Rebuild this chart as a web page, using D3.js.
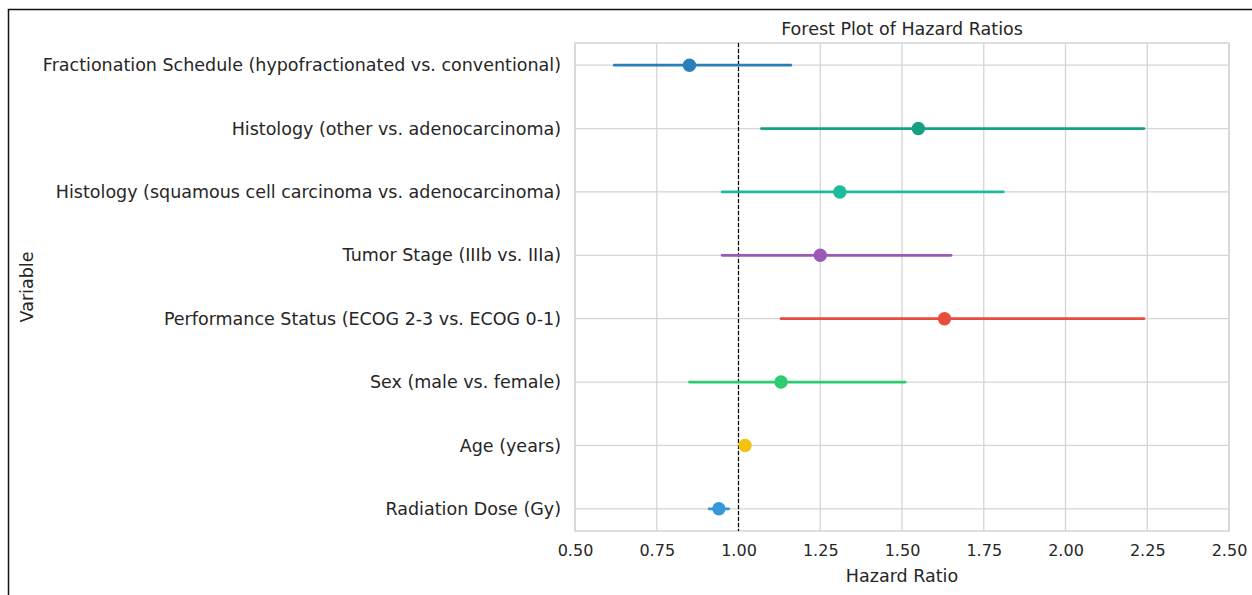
<!DOCTYPE html>
<html>
<head>
<meta charset="utf-8">
<script src="https://cdn.jsdelivr.net/npm/d3@7"></script>
<style>
  body { margin: 0; background: #fff; }
  svg { display: block; font-family: 'DejaVu Sans', sans-serif; }
</style>
</head>
<body>
<svg id="chart"></svg>
<script>
// data, top row first
const variables = [
  'Fractionation Schedule (hypofractionated vs. conventional)',
  'Histology (other vs. adenocarcinoma)',
  'Histology (squamous cell carcinoma vs. adenocarcinoma)',
  'Tumor Stage (IIIb vs. IIIa)',
  'Performance Status (ECOG 2-3 vs. ECOG 0-1)',
  'Sex (male vs. female)',
  'Age (years)',
  'Radiation Dose (Gy)'
]
const hazardRatios = [0.85, 1.55, 1.31, 1.25, 1.63, 1.13, 1.02, 0.94]
const lowerCI = [0.62, 1.07, 0.95, 0.95, 1.13, 0.85, 1.01, 0.91]
const upperCI = [1.16, 2.24, 1.81, 1.65, 2.24, 1.51, 1.03, 0.97]
const colors = ['#2980b9', '#16a085', '#1abc9c', '#9b59b6', '#e74c3c', '#2ecc71', '#f1c40f', '#3498db']
const xTicks = [0.5, 0.75, 1.0, 1.25, 1.5, 1.75, 2.0, 2.25, 2.5]

const width = 1252
const height = 595
const margin = { top: 43, right: 23, bottom: 64, left: 575 }
const textColor = '#262626'
const gridColor = '#d5d5d5'
const labelSize = '17.5px'

const svg = d3.select('#chart').attr('width', width).attr('height', height)

// frame of the screenshot
svg.append('path')
  .attr('d', `M8.5,${height} V9.5 H${width}`)
  .attr('fill', 'none')
  .attr('stroke', '#111')
  .attr('stroke-width', 1.5)

const x = d3.scaleLinear()
  .domain([0.5, 2.5])
  .range([margin.left, width - margin.right])

// matplotlib style 5% margins around the category positions
const n = variables.length
const y = d3.scaleLinear()
  .domain([-0.35, n - 1 + 0.35])
  .range([margin.top, height - margin.bottom])

const rows = variables.map((v, i) => ({
  name: v,
  hr: hazardRatios[i],
  lo: lowerCI[i],
  hi: upperCI[i],
  color: colors[i],
  idx: i
}))

// grid
const grid = svg.append('g')
grid.selectAll('.vgrid').data(xTicks).enter()
  .append('line')
  .attr('class', 'vgrid')
  .attr('x1', d => x(d)).attr('x2', d => x(d))
  .attr('y1', y.range()[0]).attr('y2', y.range()[1])
  .attr('stroke', gridColor).attr('stroke-width', 1.3)
grid.selectAll('.hgrid').data(rows).enter()
  .append('line')
  .attr('class', 'hgrid')
  .attr('x1', x.range()[0]).attr('x2', x.range()[1])
  .attr('y1', d => y(d.idx)).attr('y2', d => y(d.idx))
  .attr('stroke', gridColor).attr('stroke-width', 1.3)

// axes frame
svg.append('rect')
  .attr('x', x.range()[0]).attr('y', y.range()[0])
  .attr('width', x.range()[1] - x.range()[0])
  .attr('height', y.range()[1] - y.range()[0])
  .attr('fill', 'none')
  .attr('stroke', gridColor).attr('stroke-width', 1.5)

// x axis
const xAxis = svg.append('g')
  .attr('transform', `translate(0,${y.range()[1]})`)
  .call(d3.axisBottom(x).tickValues(xTicks).tickFormat(d3.format('.2f')).tickSize(0).tickPadding(14))
xAxis.attr('font-family', null).attr('font-size', null)
xAxis.select('.domain').remove()
xAxis.selectAll('text').attr('fill', textColor).style('font-size', '16px')

// y axis labels
const yAxis = svg.append('g')
  .attr('transform', `translate(${x.range()[0]},0)`)
  .call(d3.axisLeft(y).tickValues(d3.range(n)).tickFormat(i => variables[i]).tickSize(0).tickPadding(14))
yAxis.attr('font-family', null).attr('font-size', null)
yAxis.select('.domain').remove()
yAxis.selectAll('text').attr('fill', textColor).style('font-size', labelSize)

// reference line at HR = 1
svg.append('line')
  .attr('x1', x(1)).attr('x2', x(1))
  .attr('y1', y.range()[0]).attr('y2', y.range()[1])
  .attr('stroke', '#000').attr('stroke-width', 1.2)
  .attr('stroke-dasharray', '4,2')

// confidence intervals
svg.append('g').selectAll('line').data(rows).enter()
  .append('line')
  .attr('x1', d => x(d.lo)).attr('x2', d => x(d.hi))
  .attr('y1', d => y(d.idx)).attr('y2', d => y(d.idx))
  .attr('stroke', d => d.color)
  .attr('stroke-width', 2.7)
  .attr('stroke-linecap', 'round')

// point estimates
svg.append('g').selectAll('circle').data(rows).enter()
  .append('circle')
  .attr('cx', d => x(d.hr))
  .attr('cy', d => y(d.idx))
  .attr('r', 6.7)
  .attr('fill', d => d.color)

// titles
svg.append('text')
  .attr('x', (x.range()[0] + x.range()[1]) / 2)
  .attr('y', 35)
  .attr('text-anchor', 'middle')
  .attr('fill', textColor)
  .style('font-size', labelSize)
  .text('Forest Plot of Hazard Ratios')

svg.append('text')
  .attr('x', (x.range()[0] + x.range()[1]) / 2)
  .attr('y', 582)
  .attr('text-anchor', 'middle')
  .attr('fill', textColor)
  .style('font-size', labelSize)
  .text('Hazard Ratio')

svg.append('text')
  .attr('transform', `translate(33,${(y.range()[0] + y.range()[1]) / 2}) rotate(-90)`)
  .attr('text-anchor', 'middle')
  .attr('fill', textColor)
  .style('font-size', labelSize)
  .text('Variable')
</script>
</body>
</html>
